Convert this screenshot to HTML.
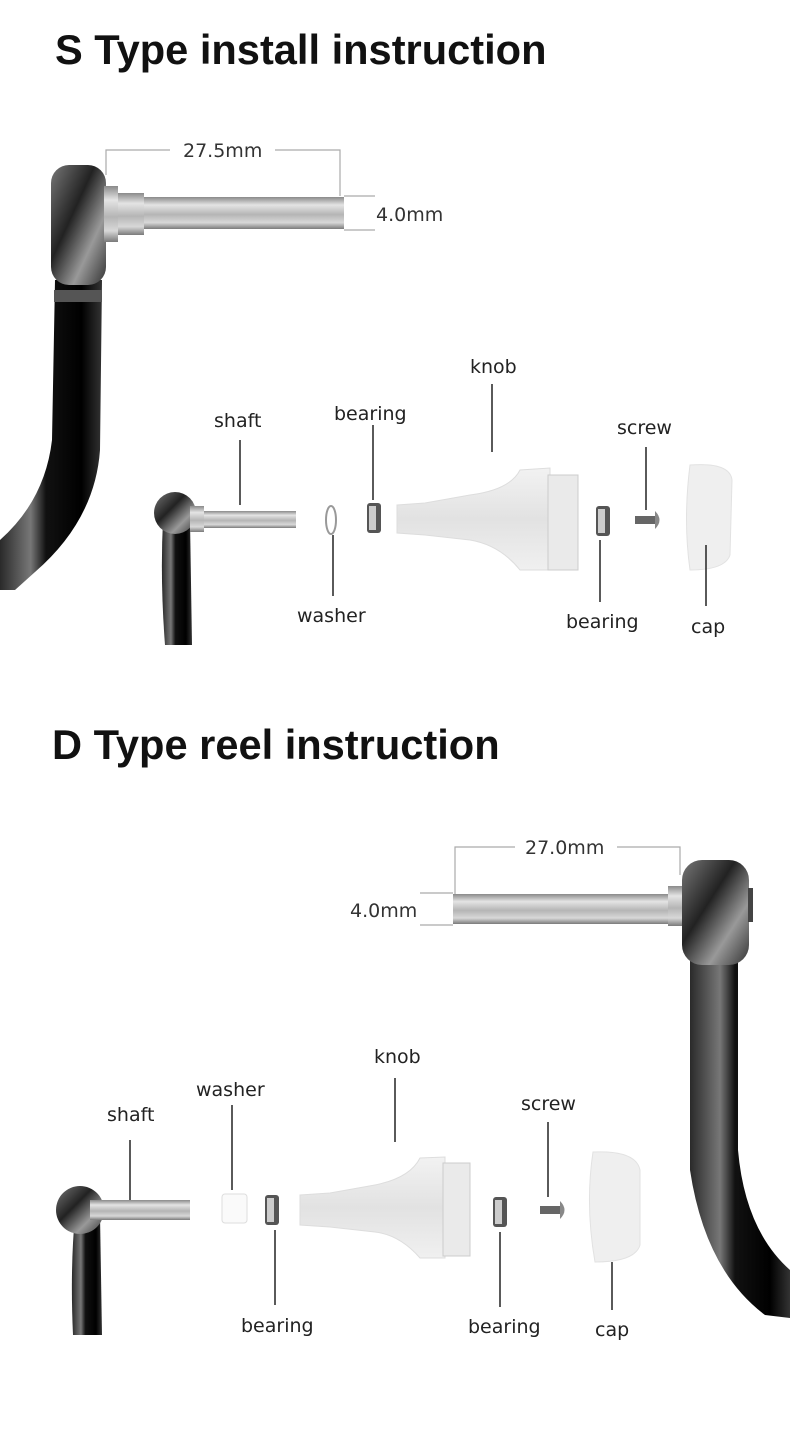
<!DOCTYPE html>
<html><head><meta charset="utf-8"><style>
html,body{margin:0;padding:0;background:#fff;}
svg{display:block;}
.t{font-family:"Liberation Sans",sans-serif;font-weight:bold;font-size:41.6px;fill:#111;}
.l{font-family:"DejaVu Sans","Liberation Sans",sans-serif;font-size:19px;fill:#222;}
.d{font-family:"DejaVu Sans","Liberation Sans",sans-serif;font-size:19px;fill:#333;}
</style></head><body>
<svg width="790" height="1439" viewBox="0 0 790 1439" xmlns="http://www.w3.org/2000/svg">
<defs>
<linearGradient id="metal" x1="0" y1="0" x2="0" y2="1">
<stop offset="0" stop-color="#8a8a8a"/><stop offset="0.25" stop-color="#e4e4e4"/><stop offset="0.55" stop-color="#b5b5b5"/><stop offset="0.8" stop-color="#d8d8d8"/><stop offset="1" stop-color="#7a7a7a"/></linearGradient>
<linearGradient id="blk" x1="0" y1="0" x2="1" y2="0">
<stop offset="0" stop-color="#2a2a2a"/><stop offset="0.3" stop-color="#777"/><stop offset="0.45" stop-color="#111"/><stop offset="0.8" stop-color="#000"/><stop offset="1" stop-color="#333"/></linearGradient>
<linearGradient id="gun" x1="0" y1="0" x2="1" y2="1">
<stop offset="0" stop-color="#777"/><stop offset="0.4" stop-color="#222"/><stop offset="0.7" stop-color="#999"/><stop offset="1" stop-color="#333"/></linearGradient>
<linearGradient id="clear" x1="0" y1="0" x2="0" y2="1">
<stop offset="0" stop-color="#f2f2f2"/><stop offset="0.5" stop-color="#e2e2e2"/><stop offset="1" stop-color="#f0f0f0"/></linearGradient>
<g id="bear"><rect x="-7" y="-15" width="14" height="30" rx="3" fill="#555"/><rect x="-5" y="-12" width="7" height="24" fill="#ccc"/></g>
<g id="screw"><rect x="-15" y="-4" width="20" height="8" fill="#666"/><path d="M5 -9 Q14 0 5 9 Z" fill="#888"/></g>
</defs>

<text class="t" x="55" y="64">S Type install instruction</text>
<text class="t" x="52" y="759">D Type reel instruction</text>

<!-- ===== S top big handle ===== -->
<path d="M55 280 L102 280 L100 450 Q95 520 35 572 L15 590 L0 590 L0 540 Q45 500 52 440 Z" fill="url(#blk)"/>
<rect x="54" y="290" width="48" height="12" fill="#555"/>
<rect x="51" y="165" width="55" height="120" rx="18" fill="url(#gun)"/>
<rect x="104" y="186" width="14" height="56" fill="url(#metal)"/>
<rect x="118" y="193" width="26" height="42" fill="url(#metal)"/>
<rect x="144" y="197" width="200" height="32" fill="url(#metal)"/>
<g stroke="#aaa" stroke-width="1.2" fill="none">
<path d="M106 175 L106 150 L170 150"/><path d="M275 150 L340 150 L340 196"/>
<path d="M344 196 L375 196"/><path d="M344 230 L375 230"/>
</g>
<text class="d" x="183" y="157">27.5mm</text>
<text class="d" x="376" y="221">4.0mm</text>

<!-- S exploded -->
<path d="M163 520 L190 520 L192 645 L165 645 Q160 580 163 520 Z" fill="url(#blk)"/>
<circle cx="175" cy="513" r="21" fill="url(#gun)"/>
<rect x="190" y="506" width="14" height="26" fill="url(#metal)"/>
<rect x="204" y="511" width="92" height="17" fill="url(#metal)"/>
<ellipse cx="331" cy="520" rx="5" ry="14" fill="none" stroke="#999" stroke-width="2"/>
<use href="#bear" x="374" y="518"/>
<path d="M397 505 L425 503 L470 495 Q510 490 520 470 L550 468 L550 570 L520 570 Q500 545 470 540 L425 535 L397 533 Z" fill="url(#clear)" stroke="#ddd"/>
<rect x="548" y="475" width="30" height="95" fill="#eaeaea" stroke="#ccc"/>
<use href="#bear" x="603" y="521"/>
<use href="#screw" x="650" y="520"/>
<path d="M690 465 Q730 462 732 480 L730 555 Q725 570 690 570 Q683 520 690 465 Z" fill="#efefef" stroke="#e2e2e2"/>
<g stroke="#222" stroke-width="1.5">
<line x1="240" y1="440" x2="240" y2="505"/><line x1="373" y1="425" x2="373" y2="500"/>
<line x1="492" y1="384" x2="492" y2="452"/><line x1="646" y1="447" x2="646" y2="510"/>
<line x1="333" y1="535" x2="333" y2="596"/><line x1="600" y1="540" x2="600" y2="602"/>
<line x1="706" y1="545" x2="706" y2="606"/></g>
<text class="l" x="214" y="427">shaft</text>
<text class="l" x="334" y="420">bearing</text>
<text class="l" x="470" y="373">knob</text>
<text class="l" x="617" y="434">screw</text>
<text class="l" x="297" y="622">washer</text>
<text class="l" x="566" y="628">bearing</text>
<text class="l" x="691" y="633">cap</text>

<!-- ===== D big handle ===== -->
<path d="M690 955 L738 955 L738 1150 Q745 1230 790 1270 L790 1318 L765 1315 Q705 1270 690 1170 Z" fill="url(#blk)"/>
<rect x="682" y="860" width="67" height="105" rx="20" fill="url(#gun)"/>
<rect x="748" y="888" width="5" height="34" fill="#444"/>
<rect x="668" y="886" width="14" height="40" fill="url(#metal)"/>
<rect x="453" y="894" width="215" height="30" fill="url(#metal)"/>
<g stroke="#aaa" stroke-width="1.2" fill="none">
<path d="M455 894 L455 847 L515 847"/><path d="M617 847 L680 847 L680 875"/>
<path d="M420 893 L453 893"/><path d="M420 925 L453 925"/>
</g>
<text class="d" x="525" y="854">27.0mm</text>
<text class="d" x="350" y="917">4.0mm</text>

<!-- D exploded -->
<path d="M75 1215 L100 1215 L102 1335 L73 1335 Q70 1270 75 1215 Z" fill="url(#blk)"/>
<circle cx="80" cy="1210" r="24" fill="url(#gun)"/>
<rect x="90" y="1200" width="100" height="20" fill="url(#metal)"/>
<rect x="222" y="1194" width="25" height="29" rx="3" fill="#fafafa" stroke="#ddd"/>
<use href="#bear" x="272" y="1210"/>
<path d="M300 1195 L330 1193 L375 1185 Q410 1178 420 1158 L445 1157 L445 1258 L420 1258 Q400 1235 375 1232 L330 1227 L300 1225 Z" fill="url(#clear)" stroke="#ddd"/>
<rect x="443" y="1163" width="27" height="93" fill="#eaeaea" stroke="#ccc"/>
<use href="#bear" x="500" y="1212"/>
<use href="#screw" x="555" y="1210"/>
<path d="M593 1152 Q636 1150 640 1170 L640 1245 Q635 1262 595 1262 Q585 1205 593 1152 Z" fill="#efefef" stroke="#e2e2e2"/>
<g stroke="#222" stroke-width="1.5">
<line x1="130" y1="1140" x2="130" y2="1200"/><line x1="232" y1="1105" x2="232" y2="1190"/>
<line x1="395" y1="1078" x2="395" y2="1142"/><line x1="548" y1="1122" x2="548" y2="1197"/>
<line x1="275" y1="1230" x2="275" y2="1305"/><line x1="500" y1="1232" x2="500" y2="1307"/>
<line x1="612" y1="1262" x2="612" y2="1310"/></g>
<text class="l" x="107" y="1121">shaft</text>
<text class="l" x="196" y="1096">washer</text>
<text class="l" x="374" y="1063">knob</text>
<text class="l" x="521" y="1110">screw</text>
<text class="l" x="241" y="1332">bearing</text>
<text class="l" x="468" y="1333">bearing</text>
<text class="l" x="595" y="1336">cap</text>
</svg>
</body></html>
